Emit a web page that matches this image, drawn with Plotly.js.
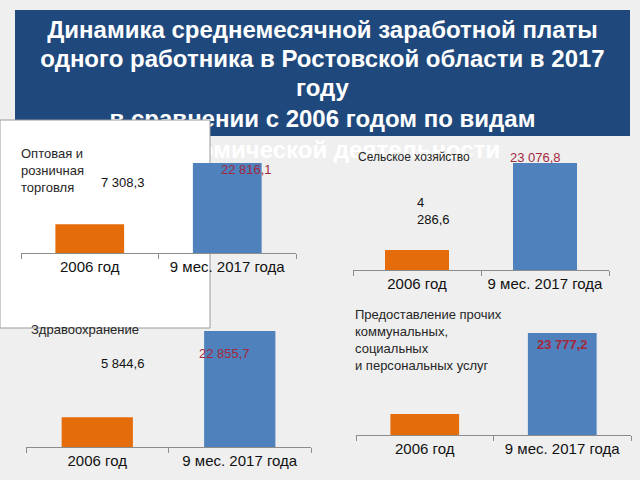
<!DOCTYPE html>
<html>
<head>
<meta charset="utf-8">
<script src="https://cdn.plot.ly/plotly-3.0.1.min.js"></script>
<style>html,body{margin:0;padding:0;background:#efefef;}#chart{width:640px;height:480px;}</style>
</head>
<body>
<div id="chart"></div>
<script>
// ---- data ----
const categories = ['2006 год', '9 мес. 2017 года'];
const sectorNames = [
  'Оптовая и<br>розничная<br>торговля',
  'Сельское хозяйство',
  'Здравоохранение',
  'Предоставление прочих<br>коммунальных,<br>социальных<br>и персональных услуг'
];
const trade = [7308.3, 22816.1];
const agriculture = [4286.6, 23076.8];
const health = [5844.6, 22855.7];
const services = [4900, 23777.2];   // 2006 value not printed, estimated from bar
const titleLines = [
  'Динамика среднемесячной заработной платы',
  'одного работника в Ростовской области в 2017',
  'году',
  'в сравнении с 2006 годом по видам',
  'экономической деятельности'
];

// ---- helpers ----
const W = 640, H = 480;
const px = v => v / W;
const py = v => 1 - v / H;
function fmt(v) {
  const s = v.toFixed(1).split('.');
  return s[0].replace(/\B(?=(\d{3})+(?!\d))/g, ' ') + ',' + s[1];
}
const barColors = ['#e46c0a', '#4f81bd'];
const axisGray = '#8c8c8c';
const FONT = 'Liberation Sans, Arial, sans-serif';
const RED = '#a3283c';

const seriesList = [trade, agriculture, health, services];
const traces = seriesList.map((vals, i) => ({
  type: 'bar',
  x: categories,
  y: vals,
  xaxis: i === 0 ? 'x' : 'x' + (i + 1),
  yaxis: i === 0 ? 'y' : 'y' + (i + 1),
  marker: {color: barColors, line: {width: 0}},
  hoverinfo: 'none',
  showlegend: false
}));

// plot areas (paper fractions)
const xDomains = [[px(21), px(296)], [px(353), px(609)], [px(26), px(311)], [px(356), px(631)]];
const yDomains = [[py(253), py(163)], [py(270), py(163)], [py(447), py(331)], [py(435), py(333)]];

const layout = {
  width: W, height: H,
  margin: {l: 0, r: 0, t: 0, b: 0},
  paper_bgcolor: '#efefef',
  plot_bgcolor: 'rgba(0,0,0,0)',
  bargap: 0.5,
  showlegend: false,
  font: {family: FONT, color: '#1a1a1a'},
  shapes: [],
  annotations: []
};

seriesList.forEach((vals, i) => {
  const xa = i === 0 ? 'xaxis' : 'xaxis' + (i + 1);
  const ya = i === 0 ? 'yaxis' : 'yaxis' + (i + 1);
  layout[xa] = {
    domain: xDomains[i], anchor: i === 0 ? 'y' : 'y' + (i + 1),
    type: 'category', showline: true, linecolor: axisGray, linewidth: 1,
    ticks: 'outside', tickson: 'boundaries', ticklen: 5, tickcolor: axisGray,
    showgrid: false, zeroline: false, fixedrange: true,
    tickfont: {size: 15, color: '#111111', family: FONT}
  };
  layout[ya] = {
    domain: yDomains[i], anchor: i === 0 ? 'x' : 'x' + (i + 1),
    range: [0, Math.max(...vals)], visible: false, fixedrange: true,
    showgrid: false, zeroline: false
  };
});

// title box
layout.shapes.push({
  type: 'rect', xref: 'paper', yref: 'paper', layer: 'below',
  x0: px(15), x1: px(630), y0: py(136), y1: py(10),
  fillcolor: '#1f497d', line: {width: 0}
});
const lineCenters = [27, 56, 85, 116, 147];
titleLines.forEach((t, i) => {
  layout.shapes.push({
    type: 'rect', xref: 'paper', yref: 'paper', layer: 'below',
    x0: px(15), x1: px(630), y0: py(lineCenters[i] + 10), y1: py(lineCenters[i] - 10),
    fillcolor: 'rgba(0,0,0,0)', line: {width: 0},
    label: {text: '<b>' + t + '</b>', textposition: 'middle center', padding: 0,
            font: {family: FONT, size: 24, color: '#ffffff'}}
  });
});
// white panel behind first chart
layout.shapes.push({
  type: 'rect', xref: 'paper', yref: 'paper', layer: 'below',
  x0: px(0), x1: px(210), y0: py(328), y1: py(120),
  fillcolor: '#ffffff', line: {color: '#9a9a9a', width: 1}
});

function ann(text, x, y, opts) {
  layout.annotations.push(Object.assign({
    text: text, xref: 'paper', yref: 'paper', x: px(x), y: py(y),
    xanchor: 'left', yanchor: 'middle', align: 'left', showarrow: false,
    font: {family: FONT, size: 13, color: '#262626'}
  }, opts || {}));
}
// sector names
ann(sectorNames[0], 19, 170, {font: {family: FONT, size: 13, color: '#262626'}});
ann(sectorNames[1], 356, 157, {font: {family: FONT, size: 12, color: '#262626'}});
ann(sectorNames[2], 29, 329, {font: {family: FONT, size: 13, color: '#262626'}});
ann(sectorNames[3], 353, 340, {font: {family: FONT, size: 13, color: '#262626'}});
// value labels
ann(fmt(trade[0]), 99, 182, {font: {family: FONT, size: 13, color: '#111'}});
ann(fmt(trade[1]), 219, 169, {font: {family: FONT, size: 13, color: RED}});
ann(fmt(agriculture[0]).replace(' ', '<br>'), 415, 211, {font: {family: FONT, size: 13, color: '#111'}});
ann(fmt(agriculture[1]), 508, 157, {font: {family: FONT, size: 13, color: RED}});
ann(fmt(health[0]), 99, 363, {font: {family: FONT, size: 13, color: '#111'}});
ann(fmt(health[1]), 197, 353, {font: {family: FONT, size: 13, color: RED}});
ann('<b>' + fmt(services[1]) + '</b>', 535, 344, {font: {family: FONT, size: 13, color: RED}});

Plotly.newPlot('chart', traces, layout, {staticPlot: true, displayModeBar: false});
</script>
</body>
</html>
